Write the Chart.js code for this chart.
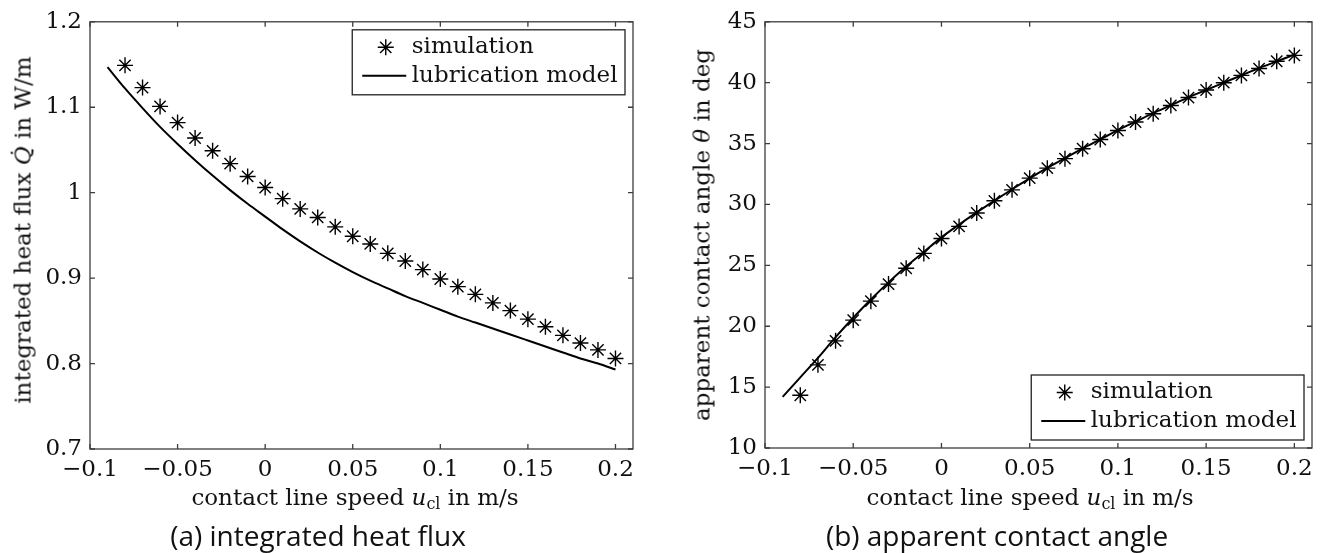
<!DOCTYPE html>
<html><head><meta charset="utf-8">
<script src="https://cdn.jsdelivr.net/npm/chart.js@4.4.1/dist/chart.umd.min.js"></script>
<style>
html,body{margin:0;padding:0;background:#fff;}
#wrap{position:relative;width:1333px;height:553px;overflow:hidden;background:#fff;}
canvas{position:absolute;top:0;}
.t{position:absolute;font-family:"DejaVu Serif";font-size:23px;color:#111;white-space:nowrap;transform:translate(-50%,-50%);line-height:1;}
.r{transform:translate(-50%,-50%) rotate(-90deg);}
.cap{position:absolute;font-family:"Open Sans";font-size:28px;color:#111;white-space:nowrap;transform:translate(-50%,-50%);line-height:1;}
.t sub{font-size:16px;vertical-align:-4px;line-height:0;}
</style>
</head><body>
<div id="wrap">
<canvas id="c1" width="666" height="553" style="left:0"></canvas>
<canvas id="c2" width="667" height="553" style="left:666px"></canvas>
<div class="t r" style="left:23px;top:230px">integrated heat flux <i>Q&#x307;</i> in W/m</div>
<div class="t" style="left:355px;top:497px">contact line speed <i>u</i><sub>cl</sub> in m/s</div>
<div class="cap" style="left:318px;top:535px">(a) integrated heat flux</div>
<div class="t r" style="left:702px;top:235px">apparent contact angle <i>θ</i> in deg</div>
<div class="t" style="left:1030px;top:497px">contact line speed <i>u</i><sub>cl</sub> in m/s</div>
<div class="cap" style="left:997px;top:535px">(b) apparent contact angle</div>
</div>
<script>
const xTickValues = [-0.1, -0.05, 0, 0.05, 0.1, 0.15, 0.2];
const xTickLabels = ['−0.1', '−0.05', '0', '0.05', '0.1', '0.15', '0.2'];
const heatTickValues = [0.7, 0.8, 0.9, 1.0, 1.1, 1.2];
const heatTickLabels = ['0.7', '0.8', '0.9', '1', '1.1', '1.2'];
const angleTickValues = [10, 15, 20, 25, 30, 35, 40, 45];
const angleTickLabels = ['10', '15', '20', '25', '30', '35', '40', '45'];

const simSpeed = [-0.08, -0.07, -0.06, -0.05, -0.04, -0.03, -0.02, -0.01, 0, 0.01, 0.02, 0.03, 0.04, 0.05, 0.06, 0.07, 0.08, 0.09, 0.1, 0.11, 0.12, 0.13, 0.14, 0.15, 0.16, 0.17, 0.18, 0.19, 0.2];
const modelSpeed = [-0.09, -0.08, -0.07, -0.06, -0.05, -0.04, -0.03, -0.02, -0.01, 0, 0.01, 0.02, 0.03, 0.04, 0.05, 0.06, 0.07, 0.08, 0.09, 0.1, 0.11, 0.12, 0.13, 0.14, 0.15, 0.16, 0.17, 0.18, 0.19, 0.2];

const simHeat = [1.149, 1.123, 1.101, 1.082, 1.064, 1.049, 1.034, 1.019, 1.006, 0.993, 0.981, 0.971, 0.960, 0.949, 0.940, 0.929, 0.920, 0.910, 0.899, 0.890, 0.881, 0.871, 0.862, 0.852, 0.843, 0.833, 0.824, 0.816, 0.806];
const modelHeat = [1.147, 1.122, 1.099, 1.077, 1.057, 1.038, 1.020, 1.003, 0.987, 0.972, 0.957, 0.943, 0.930, 0.918, 0.907, 0.897, 0.888, 0.879, 0.871, 0.863, 0.855, 0.848, 0.841, 0.834, 0.827, 0.820, 0.813, 0.806, 0.800, 0.793];

const simAngle = [14.33, 16.83, 18.8, 20.5, 22.06, 23.46, 24.76, 25.98, 27.2, 28.2, 29.3, 30.3, 31.2, 32.16, 32.98, 33.76, 34.58, 35.33, 36.07, 36.77, 37.45, 38.13, 38.78, 39.4, 40.0, 40.6, 41.16, 41.76, 42.24];
const modelAngle = [14.2, 15.8, 17.4, 19.1, 20.7, 22.2, 23.6, 24.9, 26.1, 27.3, 28.35, 29.35, 30.3, 31.25, 32.15, 33.0, 33.8, 34.6, 35.35, 36.1, 36.8, 37.5, 38.15, 38.8, 39.4, 40.0, 40.6, 41.2, 41.75, 42.3];

const seriesLabels = ['simulation', 'lubrication model'];

Chart.defaults.font.family = '"DejaVu Serif"';
Chart.defaults.font.size = 23;
Chart.defaults.color = '#111';

const FRAME = '#3c3c3c';

const framePlugin = {
  id: 'frame',
  afterDatasetsDraw(chart) {
    const {ctx, chartArea: a, scales: {x, y}} = chart;
    ctx.save();
    ctx.strokeStyle = FRAME;
    ctx.lineWidth = 1.3;
    ctx.strokeRect(a.left, a.top, a.right - a.left, a.bottom - a.top);
    const L = 5;
    ctx.beginPath();
    x.ticks.forEach(t => {
      const p = x.getPixelForValue(t.value);
      ctx.moveTo(p, a.bottom); ctx.lineTo(p, a.bottom - L);
      ctx.moveTo(p, a.top); ctx.lineTo(p, a.top + L);
    });
    y.ticks.forEach(t => {
      const p = y.getPixelForValue(t.value);
      ctx.moveTo(a.left, p); ctx.lineTo(a.left + L, p);
      ctx.moveTo(a.right, p); ctx.lineTo(a.right - L, p);
    });
    ctx.stroke();
    ctx.restore();
  }
};

function drawStar(ctx, cx, cy, r) {
  const d = Math.cos(Math.PI / 4) * r;
  ctx.beginPath();
  ctx.moveTo(cx - r, cy); ctx.lineTo(cx + r, cy);
  ctx.moveTo(cx, cy - r); ctx.lineTo(cx, cy + r);
  ctx.moveTo(cx - d, cy - d); ctx.lineTo(cx + d, cy + d);
  ctx.moveTo(cx - d, cy + d); ctx.lineTo(cx + d, cy - d);
  ctx.stroke();
}

const boxLegend = {
  id: 'boxLegend',
  afterDraw(chart, args, opts) {
    const {ctx, chartArea: a} = chart;
    const ds = chart.data.datasets;
    ctx.save();
    ctx.font = '23px "DejaVu Serif"';
    const tw = Math.max(...ds.map(d => ctx.measureText(d.label).width));
    const w = 59 + tw + 8, h = 65;
    const x0 = a.right - 8 - w;
    const y0 = opts.corner === 'top' ? a.top + 8 : a.bottom - 8 - h;
    ctx.fillStyle = '#fff';
    ctx.fillRect(x0, y0, w, h);
    ctx.strokeStyle = '#222';
    ctx.lineWidth = 1.3;
    ctx.strokeRect(x0, y0, w, h);
    const rows = [y0 + 17.5, y0 + 46];
    ctx.strokeStyle = '#000';
    ctx.lineWidth = 1.4;
    drawStar(ctx, x0 + 33.5, rows[0], 8);
    ctx.lineWidth = 2;
    ctx.beginPath();
    ctx.moveTo(x0 + 10, rows[1]); ctx.lineTo(x0 + 54, rows[1]);
    ctx.stroke();
    ctx.fillStyle = '#111';
    ctx.textBaseline = 'middle';
    ctx.textAlign = 'left';
    ctx.fillText(ds[0].label, x0 + 59.5, rows[0]);
    ctx.fillText(ds[1].label, x0 + 59.5, rows[1]);
    ctx.restore();
  }
};

function makeChart(id, simY, modelY, yMin, yMax, yTicks, yLabels, yWidth, xHeight, pad, corner) {
  const simPts = simSpeed.map((s, i) => ({x: s, y: simY[i]}));
  const modelPts = modelSpeed.map((s, i) => ({x: s, y: modelY[i]}));
  return new Chart(document.getElementById(id), {
    type: 'scatter',
    data: {
      datasets: [
        {label: seriesLabels[0], data: simPts, showLine: false, pointStyle: 'star', pointRadius: 8, pointBorderWidth: 1.4, borderColor: '#000', backgroundColor: '#000'},
        {label: seriesLabels[1], data: modelPts, showLine: true, pointRadius: 0, borderWidth: 2, borderColor: '#000', tension: 0.4, cubicInterpolationMode: 'monotone'}
      ]
    },
    options: {
      responsive: false,
      animation: false,
      devicePixelRatio: 1,
      layout: {padding: pad},
      plugins: {legend: {display: false}, tooltip: {enabled: false}, boxLegend: {corner: corner}},
      scales: {
        x: {
          type: 'linear', min: -0.1, max: 0.21,
          grid: {display: false, drawTicks: false},
          border: {display: false},
          afterBuildTicks: s => { s.ticks = xTickValues.map(v => ({value: v})); },
          afterFit: s => { s.height = xHeight; },
          ticks: {padding: 7, maxRotation: 0, autoSkip: false, callback: (v, i) => xTickLabels[i]}
        },
        y: {
          type: 'linear', min: yMin, max: yMax,
          grid: {display: false, drawTicks: false},
          border: {display: false},
          afterBuildTicks: s => { s.ticks = yTicks.map(v => ({value: v})); },
          afterFit: s => { s.width = yWidth; },
          ticks: {padding: 8, autoSkip: false, callback: (v, i) => yLabels[i]}
        }
      }
    },
    plugins: [framePlugin, boxLegend]
  });
}

makeChart('c1', simHeat, modelHeat, 0.7, 1.2, heatTickValues, heatTickLabels, 90, 104, {left: 0, top: 21, right: 33, bottom: 0}, 'top');
makeChart('c2', simAngle, modelAngle, 10, 45, angleTickValues, angleTickLabels, 99, 105, {left: 0, top: 18, right: 21, bottom: 0}, 'bottom');
</script>
</body></html>
